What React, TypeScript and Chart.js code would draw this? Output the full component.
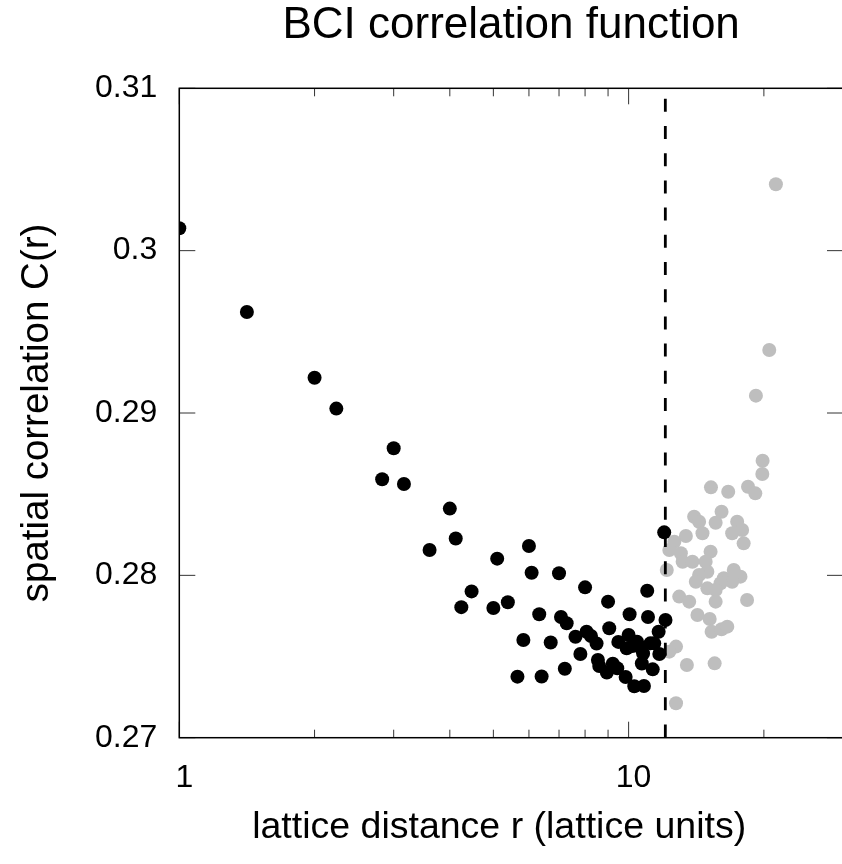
import React, { useEffect, useRef } from 'react';
import { Chart, registerables } from 'chart.js';

Chart.register(...registerables);

// ---- data ----
const blackR = [1, 1.414, 2, 2.236, 2.828, 3, 3.162, 3.606, 4, 4.123,
  4.243, 4.472, 5, 5.099, 5.385, 5.657, 5.831, 6, 6.083, 6.325,
  6.403, 6.708, 7, 7.071, 7.211, 7.28, 7.616, 7.81, 8, 8.062,
  8.246, 8.485, 8.544, 8.602, 8.944, 9, 9.055, 9.22, 9.434, 9.487,
  9.849, 9.899, 10, 10.05, 10.198, 10.296, 10.44, 10.63, 10.7, 10.77, 10.817,
  11, 11.045, 11.18, 11.314, 11.402, 11.662, 11.705, 12, 12.08];
const blackC = [0.30138, 0.29622, 0.29217, 0.29027, 0.28592, 0.28783, 0.28563, 0.28156, 0.28411, 0.28227,
  0.27804, 0.27901, 0.27799, 0.28103, 0.27834, 0.27376, 0.27602, 0.28181, 0.28016, 0.2776,
  0.27377, 0.27586, 0.28013, 0.27743, 0.27425, 0.27705, 0.27622, 0.27516, 0.27926, 0.27653,
  0.27626, 0.2758, 0.27479, 0.27442, 0.27402, 0.27838, 0.27674, 0.27456, 0.27428, 0.2759,
  0.27374, 0.27551, 0.27633, 0.2776, 0.27565, 0.27317, 0.27591, 0.27557, 0.27457, 0.27519, 0.27318,
  0.27905, 0.27743, 0.27581, 0.27421, 0.27581, 0.27653, 0.27516, 0.28265, 0.27725];

const grayR = [13.99, 14.35, 16.1, 15.62, 17.44, 17.89, 17.0, 18.03, 14.6, 13.41,
  12.64, 12.32, 13.07, 15.22, 13.19, 13.87, 14.84, 14.97, 12.16, 14.35,
  14.11, 16.29, 17.14, 17.74, 17.0, 16.02, 14.97, 15.62, 12.96, 13.64,
  15.62, 18.35, 14.23, 15.15, 15.3, 16.1, 16.58, 12.75, 12.32, 13.48,
  15.54, 12.75, 21.27, 20.56, 19.2, 19.87, 19.84, 15.25, 16.66, 18.44, 19.14];
const grayC = [0.28361, 0.2833, 0.28392, 0.28324, 0.2833, 0.28279, 0.28259, 0.28197, 0.28259, 0.28242,
  0.28207, 0.28156, 0.28136, 0.28146, 0.28084, 0.28084, 0.28084, 0.28022, 0.28033, 0.28002,
  0.27961, 0.27982, 0.28033, 0.27992, 0.27961, 0.27951, 0.2792, 0.2791, 0.27869, 0.27838,
  0.27838, 0.27848, 0.27756, 0.27731, 0.27653, 0.27668, 0.27684, 0.27561, 0.2753, 0.27448,
  0.27458, 0.27212, 0.30409, 0.29388, 0.29107, 0.28706, 0.28624, 0.28542, 0.28515, 0.28546, 0.28505];

const cutoffR = 12.07;
const xMin = 1;
const xMax = 30;
const yMin = 0.27;
const yMax = 0.31;
const xLabelTicks = [1, 10];
const xMinorTicks = [2, 3, 4, 5, 6, 7, 8, 9, 20, 30];
const yTicks = [0.27, 0.28, 0.29, 0.3, 0.31];
const yTickLabels = ['0.27', '0.28', '0.29', '0.3', '0.31'];

const titleText = 'BCI correlation function';
const xTitleText = 'lattice distance r (lattice units)';
const yTitleText = 'spatial correlation C(r)';

const FONT = '"Liberation Sans", Arial, Helvetica, sans-serif';

const framePlugin = {
  id: 'framePlugin',
  afterDatasetsDraw(chart: any) {
    const { ctx, chartArea: a, scales } = chart;
    const xs = scales.x;
    const ys = scales.y;
    ctx.save();
    // dashed cutoff line
    const xc = xs.getPixelForValue(cutoffR);
    ctx.strokeStyle = '#000';
    ctx.lineWidth = 2.8;
    ctx.setLineDash([13, 14.2]);
    ctx.lineDashOffset = 16.7;
    ctx.beginPath();
    ctx.moveTo(xc, a.top);
    ctx.lineTo(xc, a.bottom);
    ctx.stroke();
    ctx.setLineDash([]);

    // inward ticks
    ctx.strokeStyle = '#333';
    ctx.lineWidth = 1;
    ctx.beginPath();
    for (const v of yTicks) {
      const y = ys.getPixelForValue(v);
      ctx.moveTo(a.left, y); ctx.lineTo(a.left + 16, y);
      ctx.moveTo(a.right, y); ctx.lineTo(a.right - 16, y);
    }
    for (const v of xLabelTicks) {
      const x = xs.getPixelForValue(v);
      ctx.moveTo(x, a.bottom); ctx.lineTo(x, a.bottom - 16);
      ctx.moveTo(x, a.top); ctx.lineTo(x, a.top + 16);
    }
    for (const v of xMinorTicks) {
      const x = xs.getPixelForValue(v);
      ctx.moveTo(x, a.bottom); ctx.lineTo(x, a.bottom - 8);
      ctx.moveTo(x, a.top); ctx.lineTo(x, a.top + 8);
    }
    ctx.stroke();

    // frame
    ctx.strokeStyle = '#000';
    ctx.lineWidth = 1.5;
    ctx.strokeRect(a.left, a.top, a.right - a.left, a.bottom - a.top);
    ctx.restore();
  },
  afterDraw(chart: any) {
    const { ctx, chartArea: a } = chart;
    const cx = (a.left + a.right) / 2;
    const cy = (a.top + a.bottom) / 2;
    ctx.save();
    ctx.fillStyle = '#000';
    ctx.textAlign = 'center';
    ctx.textBaseline = 'alphabetic';
    ctx.font = `44px ${FONT}`;
    ctx.fillText(titleText, cx, 37.7);
    ctx.font = `37.5px ${FONT}`;
    ctx.fillText(xTitleText, cx - 12, 838);
    ctx.translate(48, cy);
    ctx.rotate(-Math.PI / 2);
    ctx.font = `38.5px ${FONT}`;
    ctx.fillText(yTitleText, 0, 0);
    ctx.restore();
  },
};

export default function App() {
  const ref = useRef<HTMLCanvasElement | null>(null);

  useEffect(() => {
    if (!ref.current) return;
    const black = blackR.map((r, i) => ({ x: r, y: blackC[i] }));
    const gray = grayR.map((r, i) => ({ x: r, y: grayC[i] }));
    const chart = new Chart(ref.current, {
      type: 'scatter',
      data: {
        datasets: [
          { data: black, backgroundColor: '#000', borderWidth: 0, pointRadius: 7, pointHoverRadius: 7 },
          { data: gray, backgroundColor: '#bebebe', borderWidth: 0, pointRadius: 7, pointHoverRadius: 7 },
        ],
      },
      options: {
        animation: false,
        responsive: false,
        events: [],
        layout: { padding: { left: 79.3, top: 88.3, right: 1.5, bottom: 0 } },
        plugins: {
          legend: { display: false },
          tooltip: { enabled: false },
          title: { display: false },
        },
        scales: {
          x: {
            type: 'logarithmic',
            position: 'bottom',
            min: xMin,
            max: xMax,
            grid: { display: false, drawTicks: false },
            border: { display: false },
            ticks: {
              color: '#000',
              font: { family: FONT, size: 32 },
              padding: 21,
              labelOffset: 5,
              maxRotation: 0,
              minRotation: 0,
              autoSkip: false,
              callback: (_v: any, i: number) => String(xLabelTicks[i]),
            },
            afterBuildTicks: (s: any) => { s.ticks = xLabelTicks.map((v) => ({ value: v })); },
            afterFit: (s: any) => { s.height = 126.3; },
          },
          y: {
            type: 'linear',
            min: yMin,
            max: yMax,
            grid: { display: false, drawTicks: false },
            border: { display: false },
            ticks: {
              color: '#000',
              font: { family: FONT, size: 32 },
              padding: 22,
              autoSkip: false,
              callback: (_v: any, i: number) => yTickLabels[i],
            },
            afterBuildTicks: (s: any) => { s.ticks = yTicks.map((v) => ({ value: v })); },
            afterFit: (s: any) => { s.width = 100; },
          },
        },
      },
      plugins: [framePlugin],
    } as any);
    return () => chart.destroy();
  }, []);

  return (
    <div style={{ position: 'fixed', left: 0, top: 0, width: 842, height: 864, overflow: 'hidden', background: '#fff' }}>
      <canvas ref={ref} width={850} height={864} style={{ display: 'block', width: 850, height: 864 }} />
    </div>
  );
}
